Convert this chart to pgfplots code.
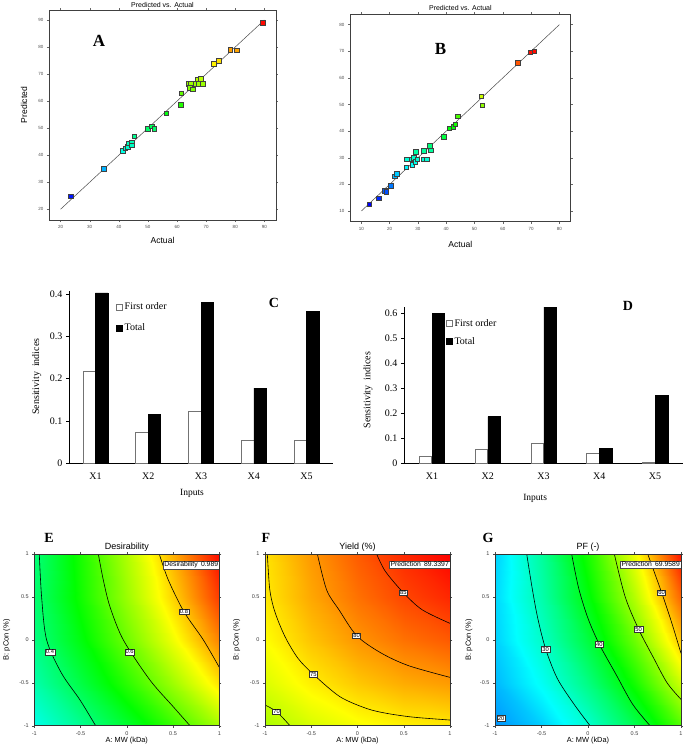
\documentclass[border=0pt]{standalone}
\usepackage{fontspec}
\setmainfont{Liberation Serif}
\newfontfamily\desans{Liberation Sans}
\usepackage{pgfplots}
\pgfplotsset{compat=1.18}
\usepackage{pgfplotstable}

\tikzset{
  clab/.style={draw=black!80, fill=white, inner sep=0.8pt, line width=0.4pt, font=\desans\fontsize{5.8}{6}\selectfont},
  pbox/.style={draw=black!70, fill=white, inner sep=1pt, line width=0.4pt, anchor=north east, font=\desans\fontsize{6.8}{7}\selectfont},
}
\pgfplotsset{
  colormap={de}{rgb255=(0,0,255) rgb255=(0,255,255) rgb255=(0,255,0) rgb255=(255,255,0) rgb255=(255,0,0)},
  pva/.style={
    scale only axis, anchor=north west, enlargelimits=false,
    axis line style={black!75, line width=0.6pt},
    tick align=outside, major tick length=2pt,
    tick style={black!60, line width=0.4pt},
    xtick distance=10, ytick distance=10,
    ticklabel style={font=\desans\fontsize{4.5}{5}\selectfont, text=black!70},
    /pgf/number format/assume math mode=true,
    title style={font=\desans\fontsize{7}{8}\selectfont, at={(axis description cs:0.5,1)}, anchor=center, inner sep=0pt},
    xlabel style={font=\desans\fontsize{8.6}{10}\selectfont, at={(axis description cs:0.5,0)}, anchor=center, inner sep=0pt},
    ylabel style={font=\desans\fontsize{8.6}{10}\selectfont, anchor=center, inner sep=0pt},
    colormap name=de,
  },
  sens/.style={
    scale only axis, anchor=north west, ybar, bar width=12.5pt,
    xmin=-0.5, xmax=4.5, ymin=0,
    xtick={0,1,2,3,4}, xticklabels={X1,X2,X3,X4,X5},
    axis x line*=bottom, axis y line*=left,
    axis line style={black, line width=0.7pt},
    x tick style={draw=none}, y tick style={black, line width=0.6pt},
    tick align=outside, major tick length=3pt,
    ticklabel style={font=\fontsize{10}{12}\selectfont},
    /pgf/number format/assume math mode=true,
    yticklabel style={/pgf/number format/fixed, /pgf/number format/precision=1},
    xticklabel style={yshift=-3pt},
    xlabel style={font=\fontsize{9.5}{11}\selectfont, anchor=center, inner sep=0pt},
    ylabel style={font=\fontsize{10}{12}\selectfont, anchor=center, inner sep=0pt},
    legend style={draw=none, fill=none, font=\fontsize{10}{12}\selectfont, anchor=north west, inner sep=0pt, legend cell align=left},
    legend image code/.code={\draw[#1, line width=0.5pt] (0pt,-3pt) rectangle (6pt,3pt);},
    clip=false,
  },
  rsm/.style={
    scale only axis, anchor=north west, height=171.7pt,
    xmin=-1, xmax=1, ymin=-1, ymax=1, enlargelimits=false, axis on top,
    xtick={-1,-0.5,0,0.5,1}, ytick={-1,-0.5,0,0.5,1},
    tick align=outside, major tick length=2pt,
    tick style={black!70, line width=0.4pt},
    axis line style={black!80, line width=0.6pt},
    ticklabel style={font=\desans\fontsize{5.5}{6}\selectfont, text=black!75},
    /pgf/number format/assume math mode=true,
    title style={font=\desans\fontsize{9}{10}\selectfont, at={(axis description cs:0.5,1)}, anchor=center, yshift=1.3pt, inner sep=0pt},
    xlabel={A: MW (kDa)}, ylabel={B: pCon (\%)},
    xlabel style={font=\desans\fontsize{7.4}{8}\selectfont, at={(axis description cs:0.5,0)}, anchor=center, yshift=-15.3pt, inner sep=0pt},
    ylabel style={font=\desans\fontsize{7.5}{8}\selectfont, anchor=center, inner sep=0pt},
    colormap name=de,
  },
  cline/.style={black, line width=0.6pt, smooth},
}

\pgfplotstableread{
x y
23.4 24.8
34.8 34.9
41.4 41.7
42.2 42.6
43.0 43.2
43.3 44.4
44.3 44.7
44.5 43.7
45.3 47.0
50.0 49.7
51.3 50.7
52.1 49.8
56.3 55.6
61.4 62.9
61.2 58.6
63.9 66.4
64.6 66.4
64.3 65.0
65.3 64.4
66.2 66.4
67.1 68.1
67.3 66.4
68.2 68.3
68.8 66.4
72.5 73.8
74.2 75.0
78.2 79.1
80.5 78.8
89.4 89.0
}\dataA

\pgfplotstableread{
x y
12.7 12.6
16.2 14.9
18.2 17.7
18.8 17.2
20.3 19.5
21.7 23.1
22.4 24.1
25.8 26.5
26.1 29.5
27.7 29.5
27.9 27.5
28.5 30.1
29.0 28.6
29.2 32.3
29.8 29.5
32.0 32.7
32.0 29.5
33.0 29.5
34.2 34.6
34.4 32.8
39.2 38.0
41.1 41.1
42.4 41.7
43.2 42.7
44.1 45.7
52.3 53.1
52.7 49.7
65.2 65.8
69.6 69.7
71.1 70.0
}\dataB

\begin{document}
\begin{tikzpicture}
\path[use as bounding box, fill=white] (0pt,0pt) rectangle (685pt,-753pt);

% ---------------- A ----------------
\begin{axis}[pva, at={(49pt,-10pt)}, width=227pt, height=210pt,
  xmin=16, xmax=94, ymin=16, ymax=93.7,
  point meta min=23.4, point meta max=89.4,
  title={Predicted vs. Actual}, title style={yshift=-0.6pt},
  xlabel={Actual}, ylabel={Predicted},
  xlabel style={yshift=-20.7pt},
  ylabel style={at={(axis description cs:-0.110,0.548)}}]
\addplot[black!70, line width=0.5pt] coordinates {(20,20) (90,90)};
\addplot[scatter, only marks, mark=square*, mark size=2.3pt,
  scatter/use mapped color={draw=black!75, fill=mapped color, line width=0.3pt},
  point meta=y] table[x=x, y=y] {\dataA};
\end{axis}

% ---------------- B ----------------
\begin{axis}[pva, at={(350pt,-14pt)}, width=220.7pt, height=207.7pt,
  xmin=6, xmax=84, ymin=6, ymax=84,
  point meta min=12.7, point meta max=70.5,
  title={Predicted vs. Actual}, title style={yshift=-0.3pt},
  xlabel={Actual},
  xlabel style={yshift=-22.3pt}]
\addplot[black!70, line width=0.5pt] coordinates {(10,10) (80,80)};
\addplot[scatter, only marks, mark=square*, mark size=2.3pt,
  scatter/use mapped color={draw=black!75, fill=mapped color, line width=0.3pt},
  point meta=y] table[x=x, y=y] {\dataB};
\end{axis}

% ---------------- C ----------------
\begin{axis}[sens, at={(69pt,-290.7pt)}, width=264pt, height=172.6pt,
  ymax=0.408, ytick={0,0.1,0.2,0.3,0.4},
  xlabel={Inputs}, ylabel={Sensitivity\ \ indices},
  xlabel style={at={(axis description cs:0.466,-0.172)}},
  ylabel style={at={(axis description cs:-0.1223,0.502)}},
  legend style={at={(axis description cs:0.178,0.942)}, row sep=8.5pt}]
\addplot[fill=white, draw=black!55, line width=0.5pt, bar shift=-6.25pt]
  coordinates {(0,0.218) (1,0.073) (2,0.122) (3,0.055) (4,0.055)};
\addplot[fill=black, draw=black, line width=0.5pt, bar shift=6.25pt]
  coordinates {(0,0.403) (1,0.116) (2,0.380) (3,0.178) (4,0.359)};
\legend{First order, Total}
\end{axis}

% ---------------- D ----------------
\begin{axis}[sens, at={(404pt,-306.7pt)}, width=279pt, height=156.6pt,
  ymax=0.6264, ytick={0,0.1,0.2,0.3,0.4,0.5,0.6},
  xlabel={Inputs}, ylabel={Sensitivity\ \ indices},
  xlabel style={at={(axis description cs:0.47,-0.222)}},
  ylabel style={at={(axis description cs:-0.129,0.468)}},
  legend style={at={(axis description cs:0.15,0.935)}, row sep=6pt}]
\addplot[fill=white, draw=black!55, line width=0.5pt, bar shift=-6.5pt]
  coordinates {(0,0.028) (1,0.056) (2,0.080) (3,0.040) (4,0.005)};
\addplot[fill=black, draw=black, line width=0.5pt, bar shift=6.5pt]
  coordinates {(0,0.600) (1,0.187) (2,0.625) (3,0.060) (4,0.273)};
\legend{First order, Total}
\end{axis}

% ---------------- E ----------------
\begin{axis}[rsm, at={(34.3pt,-554pt)}, width=185pt,
  point meta min=0, point meta max=1,
  title={Desirability},
  ylabel style={at={(axis description cs:-0.149,0.5)}}]
\addplot[surf, shader=interp, point meta=explicit] table[x=x, y=y, meta=z] {
x y z
-1 -1 0.270
-0.5 -1 0.358
0 -1 0.453
0.5 -1 0.554
1 -1 0.662

-1 -0.5 0.332
-0.5 -0.5 0.434
0 -0.5 0.542
0.5 -0.5 0.656
1 -0.5 0.778

-1 0 0.372
-0.5 0 0.487
0 0 0.608
0.5 0 0.736
1 0 0.871

-1 0.5 0.389
-0.5 0.5 0.517
0 0.5 0.652
0.5 0.5 0.793
1 0.5 0.941

-1 1 0.383
-0.5 1 0.525
0 1 0.673
0.5 1 0.828
1 1 0.989
};
\addplot[cline] coordinates {(-0.946,1) (-0.921,0.5) (-0.867,0) (-0.705,-0.39) (-0.506,-0.70) (-0.337,-1)};
\addplot[cline] coordinates {(-0.308,1) (-0.254,0.697) (-0.182,0.386) (-0.038,0) (0.25,-0.468) (0.503,-0.78) (0.683,-1)};
\addplot[cline] coordinates {(0.351,1) (0.449,0.697) (0.618,0.328) (0.827,0) (1,-0.32)};
\node[clab] at (axis cs:-0.83,-0.14) {0.4};
\node[clab] at (axis cs:0.03,-0.14) {0.6};
\node[clab] at (axis cs:0.618,0.328) {0.8};
\node[pbox] at (axis description cs:1,0.961) {Desirability\enspace 0.989};
\end{axis}

% ---------------- F ----------------
\begin{axis}[rsm, at={(265pt,-554pt)}, width=185pt,
  point meta min=23.5, point meta max=89.4,
  title={Yield (\%)},
  ylabel style={at={(axis description cs:-0.153,0.5)}}]
\addplot[surf, shader=interp, point meta=explicit] table[x=x, y=y, meta=z] {
x y z
-1 -1 67.45
-0.5 -1 70.29
0 -1 72.38
0.5 -1 73.70
1 -1 74.27

-1 -0.5 70.64
-0.5 -0.5 73.96
0 -0.5 76.53
0.5 -0.5 78.35
1 -0.5 79.40

-1 0 72.91
-0.5 0 76.73
0 0 79.78
0.5 0 82.08
1 0 83.62

-1 0.5 74.28
-0.5 0.5 78.58
0 0.5 82.12
0.5 0.5 84.91
1 0.5 86.94

-1 1 74.74
-0.5 1 79.53
0 1 83.55
0.5 1 86.83
1 1 89.34
};
\addplot[cline] coordinates {(-1,-0.759) (-0.874,-0.837) (-0.73,-1)};
\addplot[cline] coordinates {(-0.975,1) (-0.95,0.6) (-0.91,0.386) (-0.85,0.2) (-0.766,0) (-0.64,-0.22) (-0.477,-0.402) (-0.19,-0.662) (0.1,-0.80) (0.315,-0.856) (0.6,-0.9) (1,-0.934)};
\addplot[cline] coordinates {(-0.434,1) (-0.333,0.58) (-0.2,0.35) (-0.009,0.049) (0.25,-0.15) (0.55,-0.3) (1,-0.437)};
\addplot[cline] coordinates {(0.207,1) (0.3,0.8) (0.495,0.55) (0.7,0.35) (1,0.192)};
\node[clab] at (axis cs:-0.874,-0.837) {70};
\node[clab] at (axis cs:-0.477,-0.402) {75};
\node[clab] at (axis cs:-0.009,0.049) {80};
\node[clab] at (axis cs:0.495,0.55) {85};
\node[pbox] at (axis description cs:1,0.961) {Prediction\enspace 89.3397};
\end{axis}

% ---------------- G ----------------
\begin{axis}[rsm, at={(495pt,-554pt)}, width=186pt,
  point meta min=12.5, point meta max=71,
  title={PF (-)},
  ylabel style={at={(axis description cs:-0.14,0.5)}}]
\addplot[surf, shader=interp, point meta=explicit] table[x=x, y=y, meta=z] {
x y z
-1 -1 20.94
-0.5 -1 24.34
0 -1 29.72
0.5 -1 37.10
1 -1 46.46

-1 -0.5 23.09
-0.5 -0.5 27.73
0 -0.5 34.36
0.5 -0.5 42.98
1 -0.5 53.59

-1 0 24.40
-0.5 0 30.28
0 0 38.16
0.5 0 48.03
1 0 59.89

-1 0.5 24.87
-0.5 0.5 32.00
0 0.5 41.12
0.5 0.5 52.24
1 0.5 65.34

-1 1 24.50
-0.5 1 32.88
0 1 43.25
0.5 1 55.61
1 1 69.96
};
\addplot[cline] coordinates {(-0.659,1) (-0.6,0.6) (-0.54,0.25) (-0.455,-0.107) (-0.33,-0.45) (-0.15,-0.75) (0.022,-1)};
\addplot[cline] coordinates {(-0.176,1) (-0.1,0.6) (0.0,0.25) (0.122,-0.052) (0.3,-0.4) (0.48,-0.75) (0.667,-1)};
\addplot[cline] coordinates {(0.283,1) (0.4,0.5) (0.545,0.122) (0.7,-0.2) (0.85,-0.5) (1,-0.693)};
\addplot[cline] coordinates {(0.642,1) (0.792,0.55) (0.9,0.2) (1,-0.157)};
\node[clab] at (axis cs:-0.935,-0.915) {20};
\node[clab] at (axis cs:-0.455,-0.107) {30};
\node[clab] at (axis cs:0.122,-0.052) {40};
\node[clab] at (axis cs:0.545,0.122) {50};
\node[clab] at (axis cs:0.792,0.55) {60};
\node[pbox] at (axis description cs:1,0.961) {Prediction\enspace 69.9589};
\end{axis}

% panel letters
\node[font=\bfseries\fontsize{17}{17}\selectfont] at (99pt,-41pt) {A};
\node[font=\bfseries\fontsize{17}{17}\selectfont] at (440.5pt,-49pt) {B};
\node[font=\bfseries\fontsize{14}{14}\selectfont] at (274pt,-303pt) {C};
\node[font=\bfseries\fontsize{14}{14}\selectfont] at (628pt,-306pt) {D};
\node[font=\bfseries\fontsize{14}{14}\selectfont] at (49pt,-538pt) {E};
\node[font=\bfseries\fontsize{14}{14}\selectfont] at (266pt,-538pt) {F};
\node[font=\bfseries\fontsize{14}{14}\selectfont] at (488pt,-538pt) {G};
\end{tikzpicture}
\end{document}
